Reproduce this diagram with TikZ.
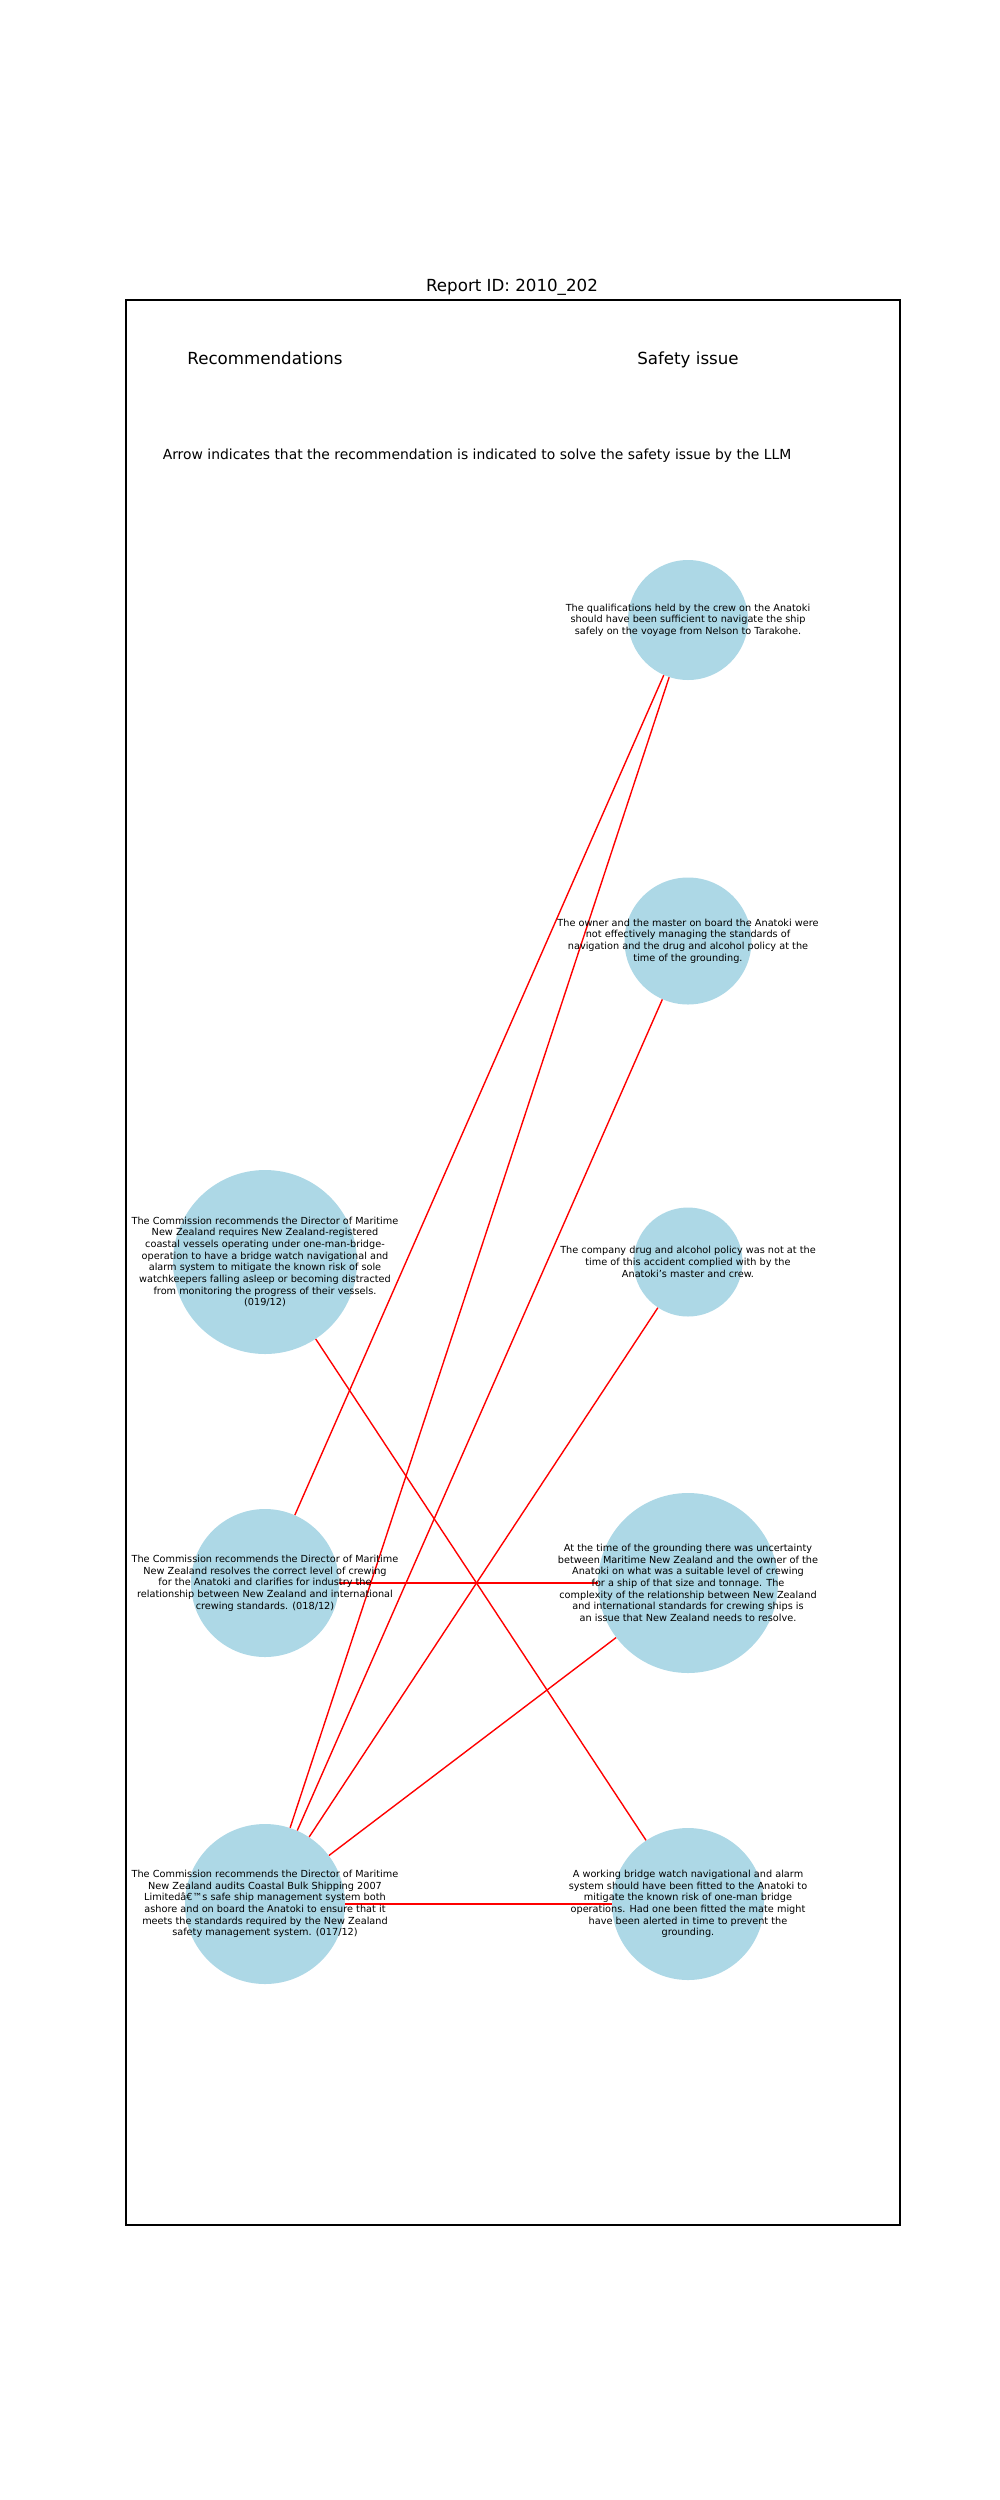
\documentclass[tikz,border=0pt]{standalone}
\usepackage{fontspec}
\setmainfont{DejaVu Sans}
\definecolor{lightblue}{HTML}{ADD8E6}
\begin{document}
\begin{tikzpicture}[x=0.72pt,y=-0.72pt,
  circ/.style={circle, fill=lightblue, draw=none, inner sep=0pt, minimum size=#1*1.44pt},
  txt/.style={align=center, inner sep=0pt, font=\fontsize{7}{8.4}\selectfont},
  head/.style={anchor=base, inner sep=0pt, font=\fontsize{12}{14}\selectfont},
  link/.style={red, line width=1pt}]
\useasboundingbox (0,0) rectangle (1000,2500);

% title and frame
\node[head] (title) at (512,291) {Report ID: 2010\_202};
\draw[line width=0.8pt] (126,300) rectangle (900,2225);

% column headings and legend
\node[head] (hrec) at (265,364) {Recommendations};
\node[head] (hsaf) at (688,364) {Safety issue};
\node[anchor=base, inner sep=0pt, font=\fontsize{10}{12}\selectfont] (legend) at (477,459)
  {Arrow indicates that the recommendation is indicated to solve the safety issue by the LLM};

% safety issues (right column)
\node[circ=60]   (s1) at (688,620)  {};
\node[circ=63.5] (s2) at (688,941)  {};
\node[circ=54.5] (s3) at (688,1262) {};
\node[circ=90]   (s4) at (688,1583) {};
\node[circ=76]   (s5) at (688,1904) {};

% recommendations (left column)
\node[circ=92] (r1) at (265,1262) {};
\node[circ=74] (r2) at (265,1583) {};
\node[circ=80] (r3) at (265,1904) {};

% links between recommendations and safety issues
\draw[link] (r1) -- (s5);
\draw[link] (r2) -- (s1);
\draw[link] (r2) -- (s4);
\draw[link] (r3) -- (s1);
\draw[link] (r3) -- (s2);
\draw[link] (r3) -- (s3);
\draw[link] (r3) -- (s4);
\draw[link] (r3) -- (s5);

% labels
\node[txt] (t1) at (s1) {The qualifications held by the crew on the Anatoki\\should have been sufficient to navigate the ship\\safely on the voyage from Nelson to Tarakohe.};
\node[txt] (t2) at (s2) {The owner and the master on board the Anatoki were\\not effectively managing the standards of\\navigation and the drug and alcohol policy at the\\time of the grounding.};
\node[txt] (t3) at (s3) {The company drug and alcohol policy was not at the\\time of this accident complied with by the\\Anatoki's master and crew.};
\node[txt] (t4) at (s4) {At the time of the grounding there was uncertainty\\between Maritime New Zealand and the owner of the\\Anatoki on what was a suitable level of crewing\\for a ship of that size and tonnage. The\\complexity of the relationship between New Zealand\\and international standards for crewing ships is\\an issue that New Zealand needs to resolve.};
\node[txt] (t5) at (s5) {A working bridge watch navigational and alarm\\system should have been fitted to the Anatoki to\\mitigate the known risk of one-man bridge\\operations. Had one been fitted the mate might\\have been alerted in time to prevent the\\grounding.};
\node[txt] (u1) at (r1) {The Commission recommends the Director of Maritime\\New Zealand requires New Zealand-registered\\coastal vessels operating under one-man-bridge-\\operation to have a bridge watch navigational and\\alarm system to mitigate the known risk of sole\\watchkeepers falling asleep or becoming distracted\\from monitoring the progress of their vessels.\\(019/12)};
\node[txt] (u2) at (r2) {The Commission recommends the Director of Maritime\\New Zealand resolves the correct level of crewing\\for the Anatoki and clarifies for industry the\\relationship between New Zealand and international\\crewing standards. (018/12)};
\node[txt] (u3) at (r3) {The Commission recommends the Director of Maritime\\New Zealand audits Coastal Bulk Shipping 2007\\Limitedâ€™s safe ship management system both\\ashore and on board the Anatoki to ensure that it\\meets the standards required by the New Zealand\\safety management system. (017/12)};
\end{tikzpicture}
\end{document}
